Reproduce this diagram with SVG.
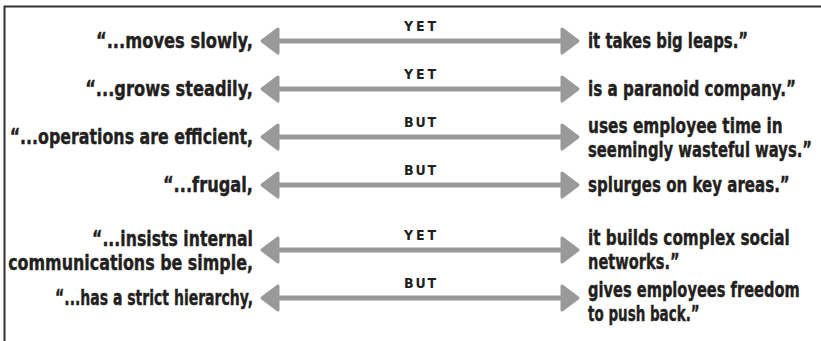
<svg xmlns="http://www.w3.org/2000/svg" width="821" height="341" viewBox="0 0 821 341">
<style>
.t{font-family:"DejaVu Sans Condensed","DejaVu Sans",sans-serif;font-weight:bold;font-size:22px;fill:#231f20;stroke:#231f20;stroke-width:0.4}
.l{text-anchor:end}
.lab{font-family:"DejaVu Sans Condensed",sans-serif;font-weight:bold;font-size:14px;fill:#231f20;text-anchor:middle}
.shaft{stroke:#999;stroke-width:5;fill:none}
.head{fill:#999;stroke:#999;stroke-width:3;stroke-linejoin:round}
</style>
<defs>
<g id="arr">
<line class="shaft" x1="272" y1="0" x2="568" y2="0"/>
<polygon class="head" points="262,0 278,-12 278,12"/>
<polygon class="head" points="578,0 562,-12 562,12"/>
</g>
</defs>
<rect x="0" y="0" width="821" height="341" fill="#fff"/>
<path d="M4.5,341 V6.5 H821" fill="none" stroke="#333" stroke-width="2"/>
<g id="connectors">
<use href="#arr" transform="translate(0,41)"/>
<use href="#arr" transform="translate(0,89)"/>
<use href="#arr" transform="translate(0,137)"/>
<use href="#arr" transform="translate(0,185)"/>
<use href="#arr" transform="translate(0,250)"/>
<use href="#arr" transform="translate(0,298)"/>
<text class="lab" x="420" y="31" textLength="32" lengthAdjust="spacing">YET</text>
<text class="lab" x="420" y="79" textLength="32" lengthAdjust="spacing">YET</text>
<text class="lab" x="420" y="127" textLength="32" lengthAdjust="spacing">BUT</text>
<text class="lab" x="420" y="175" textLength="32" lengthAdjust="spacing">BUT</text>
<text class="lab" x="420" y="240" textLength="32" lengthAdjust="spacing">YET</text>
<text class="lab" x="420" y="288" textLength="32" lengthAdjust="spacing">BUT</text>
</g>
<g id="row1-left" transform="translate(253,48) scale(0.77,1)"><text class="t l" x="0" y="0" textLength="204" lengthAdjust="spacingAndGlyphs">“...moves slowly,</text></g>
<g id="row1-right" transform="translate(588,48) scale(0.77,1)"><text class="t" x="0" y="0" textLength="208" lengthAdjust="spacingAndGlyphs">it takes big leaps.”</text></g>
<g id="row2-left" transform="translate(253,96) scale(0.77,1)"><text class="t l" x="0" y="0" textLength="218" lengthAdjust="spacingAndGlyphs">“...grows steadily,</text></g>
<g id="row2-right" transform="translate(588,96) scale(0.77,1)"><text class="t" x="0" y="0" textLength="270" lengthAdjust="spacingAndGlyphs">is a paranoid company.”</text></g>
<g id="row3-left" transform="translate(253,144) scale(0.77,1)"><text class="t l" x="0" y="0" textLength="316" lengthAdjust="spacingAndGlyphs">“...operations are efficient,</text></g>
<g id="row3-right" transform="translate(588,133) scale(0.77,1)"><text class="t" x="0" y="0"><tspan x="0" y="0" textLength="253" lengthAdjust="spacingAndGlyphs">uses employee time in</tspan><tspan x="0" y="24" textLength="291" lengthAdjust="spacingAndGlyphs">seemingly wasteful ways.”</tspan></text></g>
<g id="row4-left" transform="translate(253,192) scale(0.77,1)"><text class="t l" x="0" y="0" textLength="117" lengthAdjust="spacingAndGlyphs">“...frugal,</text></g>
<g id="row4-right" transform="translate(588,192) scale(0.77,1)"><text class="t" x="0" y="0" textLength="262" lengthAdjust="spacingAndGlyphs">splurges on key areas.”</text></g>
<g id="row5-left" transform="translate(253,246) scale(0.77,1)"><text class="t l" x="0" y="0"><tspan x="0" y="0" textLength="209" lengthAdjust="spacingAndGlyphs">“...insists internal</tspan><tspan x="0" y="24" textLength="318" lengthAdjust="spacingAndGlyphs">communications be simple,</tspan></text></g>
<g id="row5-right" transform="translate(588,245) scale(0.77,1)"><text class="t" x="0" y="0"><tspan x="0" y="0" textLength="262" lengthAdjust="spacingAndGlyphs">it builds complex social</tspan><tspan x="0" y="24" textLength="119" lengthAdjust="spacingAndGlyphs">networks.”</tspan></text></g>
<g id="row6-left" transform="translate(253,305) scale(0.77,1)"><text class="t l" x="0" y="0" textLength="257" lengthAdjust="spacingAndGlyphs">“...has a strict hierarchy,</text></g>
<g id="row6-right" transform="translate(588,297) scale(0.77,1)"><text class="t" x="0" y="0"><tspan x="0" y="0" textLength="275" lengthAdjust="spacingAndGlyphs">gives employees freedom</tspan><tspan x="0" y="24" textLength="145" lengthAdjust="spacingAndGlyphs">to push back.”</tspan></text></g>
</svg>
